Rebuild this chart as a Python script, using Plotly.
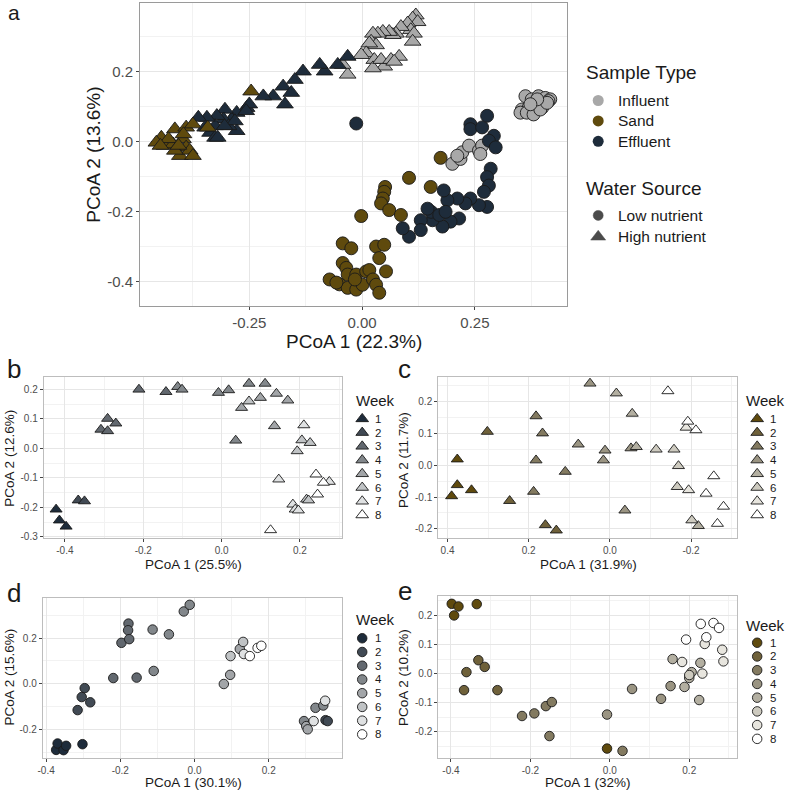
import plotly.graph_objects as go

# ---------------- DATA ----------------
# Panel a: PCoA of all samples
infl_high_x = [0.119, 0.112, 0.123, 0.101, 0.108, 0.115, 0.112, 0.086, 0.075, 0.068, 0.060, 0.046, 0.035, 0.024,
               0.020, 0.031, 0.016, 0.009, -0.002, 0.027, 0.049, 0.024, 0.042, 0.064, 0.082, 0.071, -0.032, -0.043]
infl_high_y = [0.361, 0.352, 0.342, 0.338, 0.319, 0.309, 0.286, 0.328, 0.309, 0.305, 0.314, 0.314, 0.309, 0.309,
               0.286, 0.276, 0.281, 0.253, 0.248, 0.234, 0.215, 0.210, 0.234, 0.234, 0.243, 0.229, 0.192, 0.220]
eff_high_x = [-0.032, -0.054, -0.083, -0.094, -0.131, -0.149, -0.175, -0.157, -0.171, -0.197, -0.219, -0.256,
              -0.278, -0.289, -0.278, -0.304, -0.307, -0.322, -0.326, -0.337, -0.326, -0.344, -0.363, -0.348,
              -0.296, -0.282, -0.250, -0.257, -0.320, -0.305]
eff_high_y = [0.243, 0.220, 0.201, 0.220, 0.201, 0.177, 0.158, 0.140, 0.107, 0.130, 0.130, 0.097,
              0.083, 0.064, 0.031, 0.092, 0.064, 0.074, 0.045, 0.026, 0.012, 0.069, 0.069, 0.041,
              0.045, 0.059, 0.107, 0.088, 0.012, 0.045]
sand_high_x = [-0.246, -0.415, -0.390, -0.375, -0.445, -0.456, -0.438, -0.419, -0.397, -0.390, -0.404, -0.382,
               -0.375, -0.415, -0.342, -0.429, -0.407, -0.396, -0.447]
sand_high_y = [0.144, 0.036, 0.041, 0.050, 0.012, -0.002, -0.011, -0.007, 0.008, -0.016, -0.040, -0.025,
               -0.040, -0.025, 0.041, 0.008, -0.011, 0.022, -0.011]
infl_low_x = [0.362, 0.376, 0.391, 0.406, 0.417, 0.354, 0.369, 0.384, 0.399, 0.413, 0.351, 0.365, 0.380, 0.395,
              0.410, 0.388, 0.373, 0.200, 0.218, 0.222, 0.237, 0.259, 0.266, 0.262, 0.211]
infl_low_y = [0.130, 0.121, 0.130, 0.125, 0.121, 0.092, 0.097, 0.102, 0.097, 0.116, 0.083, 0.083, 0.078, 0.092,
              0.111, 0.121, 0.107, -0.063, -0.049, -0.030, -0.011, -0.025, -0.011, -0.035, -0.040]
eff_low_x = [-0.013, 0.240, 0.240, 0.266, 0.277, 0.292, 0.281, 0.296, 0.285, 0.277, 0.281, 0.270, 0.277, 0.259,
             0.240, 0.229, 0.211, 0.189, 0.181, 0.215, 0.196, 0.178, 0.156, 0.153, 0.145, 0.171, 0.130, 0.130,
             0.104, 0.090, 0.185]
eff_low_y = [0.052, 0.050, 0.036, 0.041, 0.074, 0.017, 0.003, -0.016, -0.077, -0.101, -0.125, -0.143, -0.186,
             -0.181, -0.162, -0.176, -0.162, -0.167, -0.139, -0.219, -0.228, -0.242, -0.224, -0.200, -0.191,
             -0.209, -0.224, -0.252, -0.271, -0.247, -0.200]
sand_low_x = [0.174, 0.104, 0.152, 0.051, 0.049, 0.046, 0.042, 0.060, 0.086, -0.002, -0.043, -0.024, 0.031,
              0.049, 0.038, 0.053, -0.043, -0.035, -0.032, -0.013, 0.009, 0.016, -0.072, -0.050, -0.032, -0.013,
              0.001, 0.024, 0.031, 0.038, -0.016, -0.057]
sand_low_y = [-0.046, -0.103, -0.129, -0.129, -0.143, -0.162, -0.176, -0.195, -0.209, -0.212, -0.290, -0.304,
              -0.299, -0.294, -0.332, -0.370, -0.346, -0.360, -0.379, -0.379, -0.370, -0.366, -0.393, -0.407,
              -0.417, -0.422, -0.408, -0.393, -0.408, -0.431, -0.393, -0.402]

# Panel b: high-nutrient effluent by week
b_x = [-0.4225, -0.414, -0.397, -0.366, -0.350,
       -0.291, -0.308, -0.291, -0.270, -0.211, -0.142,
       -0.112, -0.101, -0.008, 0.018, 0.036, 0.070, 0.111,
       0.099, 0.140, 0.169, 0.135, 0.051,
       0.070, 0.205, 0.226, 0.193, 0.217, 0.222,
       0.210, 0.146, 0.275, 0.182, 0.188, 0.196,
       0.241, 0.260, 0.245, 0.125]
b_y = [-0.207, -0.244, -0.265, -0.176, -0.179,
       0.101, 0.064, 0.059, 0.085, 0.200, 0.192,
       0.209, 0.200, 0.189, 0.198, 0.027, 0.220, 0.220,
       0.172, 0.186, 0.163, 0.076, 0.138,
       0.160, 0.028, 0.019, -0.009, -0.173, -0.176,
       0.079, -0.105, -0.113, -0.190, -0.207, -0.210,
       -0.088, -0.116, -0.156, -0.277]
b_week = [1, 1, 1, 2, 2,
          3, 3, 3, 3, 3, 3,
          4, 4, 4, 4, 4, 4, 4,
          5, 5, 5, 5, 5,
          6, 6, 6, 6, 6, 6,
          7, 7, 7, 7, 7, 7,
          8, 8, 8, 8]

# Panel c: high-nutrient sand by week
c_x = [0.376, 0.376, 0.390, 0.341,
       0.302, 0.247, 0.159, 0.132,
       0.182, 0.166, 0.182, 0.188, 0.110,
       0.078, 0.049, 0.012, 0.016, -0.037, -0.052,
       -0.016, -0.055, -0.065, -0.218,
       -0.114, -0.158, -0.169, -0.166, -0.202,
       -0.194, -0.188,
       -0.143, -0.192, -0.212, -0.256, -0.237, -0.280, -0.265]
c_y = [0.019, -0.062, -0.097, -0.078,
       0.106, -0.112, -0.188, -0.205,
       0.155, 0.101, 0.016, -0.083, -0.020,
       0.066, 0.258, 0.047, 0.016, -0.142, 0.054,
       0.227, 0.163, 0.058, -0.191,
       0.050, 0.050, -0.002, -0.068, -0.173,
       -0.078, 0.119,
       0.234, 0.138, 0.111, -0.034, -0.089, -0.130, -0.184]
c_week = [1, 1, 1, 1,
          2, 2, 2, 2,
          3, 3, 3, 3, 3,
          4, 4, 4, 4, 4, 4,
          5, 5, 5, 5,
          6, 6, 6, 6, 6,
          7, 7,
          8, 8, 8, 8, 8, 8, 8]

# Panel d: low-nutrient effluent by week
d_x = [-0.373, -0.369, -0.353, -0.346, -0.302,
       -0.296, -0.304, -0.281, -0.315, 0.353, 0.359,
       -0.219, -0.156, -0.197, -0.178, -0.179, -0.176,
       -0.113, -0.069, -0.110, -0.029, -0.013, 0.326, 0.347, 0.295,
       0.079, 0.096, 0.122, 0.301, 0.305,
       0.097, 0.131,
       0.133, 0.352, 0.321,
       0.149, 0.170, 0.180]
d_y = [-0.289, -0.261, -0.290, -0.271, -0.264,
       -0.019, -0.058, -0.081, -0.115, -0.159, -0.163,
       0.025, 0.027, 0.179, 0.263, 0.234, 0.195,
       0.237, 0.216, 0.056, 0.316, 0.345, -0.105, -0.095, -0.163,
       -0.001, 0.039, 0.152, -0.185, -0.199,
       0.121, 0.183,
       0.130, -0.074, -0.163,
       0.121, 0.157, 0.166]
d_week = [1, 1, 1, 1, 1,
          2, 2, 2, 2, 2, 2,
          3, 3, 3, 3, 3, 3,
          4, 4, 4, 4, 4, 4, 4, 4,
          5, 5, 5, 5, 5,
          6, 6,
          7, 7, 7,
          8, 8, 8]

# Panel e: low-nutrient sand by week
e_x = [-0.398, -0.381, -0.392, -0.335, -0.007,
       -0.331, -0.315, -0.361, -0.367, -0.283,
       -0.221, -0.190, -0.161, -0.146, -0.152, 0.032,
       -0.007, 0.056, 0.129, 0.153,
       0.158, 0.188, 0.225, 0.228, 0.200, 0.206,
       0.200,
       0.182, 0.233, 0.239, 0.283, 0.286,
       0.192, 0.229, 0.243, 0.261, 0.275]
e_y = [0.240, 0.231, 0.200, 0.239, -0.258,
       0.046, 0.023, 0.005, -0.057, -0.057,
       -0.146, -0.137, -0.112, -0.098, -0.215, -0.266,
       -0.141, -0.053, -0.087, -0.043,
       0.050, -0.046, -0.091, 0.037, -0.015, 0.005,
       -0.005,
       0.040, 0.000, 0.102, 0.082, 0.042,
       0.117, 0.171, 0.125, 0.174, 0.157]
e_week = [1, 1, 1, 1, 1,
          2, 2, 2, 2, 2,
          3, 3, 3, 3, 3, 3,
          4, 4, 4, 4,
          5, 5, 5, 5, 5, 5,
          6,
          7, 7, 7, 7, 7,
          8, 8, 8, 8, 8]

weeks = [1, 2, 3, 4, 5, 6, 7, 8]
sample_types = ["Influent", "Sand", "Effluent"]
water_sources = ["Low nutrient", "High nutrient"]

a_xticks = [-0.25, 0.0, 0.25]
a_xticklabels = ["-0.25", "0.00", "0.25"]
a_yticks = [-0.4, -0.2, 0.0, 0.2]
a_yticklabels = ["-0.4", "-0.2", "0.0", "0.2"]
b_xticks = [-0.4, -0.2, 0.0, 0.2]
b_xticklabels = ["-0.4", "-0.2", "0.0", "0.2"]
b_yticks = [-0.3, -0.2, -0.1, 0.0, 0.1, 0.2]
b_yticklabels = ["-0.3", "-0.2", "-0.1", "0.0", "0.1", "0.2"]
c_xticks = [0.4, 0.2, 0.0, -0.2]
c_xticklabels = ["0.4", "0.2", "0.0", "-0.2"]
c_yticks = [-0.2, -0.1, 0.0, 0.1, 0.2]
c_yticklabels = ["-0.2", "-0.1", "0.0", "0.1", "0.2"]
d_xticks = [-0.4, -0.2, 0.0, 0.2, 0.4]
d_xticklabels = ["-0.4", "-0.2", "0.0", "0.2", "0.4"]
d_yticks = [-0.2, 0.0, 0.2]
d_yticklabels = ["-0.2", "0.0", "0.2"]
e_xticks = [-0.4, -0.2, 0.0, 0.2]
e_xticklabels = ["-0.4", "-0.2", "0.0", "0.2"]
e_yticks = [-0.2, -0.1, 0.0, 0.1, 0.2]
e_yticklabels = ["-0.2", "-0.1", "0.0", "0.1", "0.2"]

# ---------------- STYLE ----------------
W, H = 786, 793
FONT = "Liberation Sans, Arial, sans-serif"
C_INFL = "#a8a8a8"
C_SAND = "#5f4a0d"
C_EFF = "#1e2c3b"
OUTLINE = "#1a1a1a"


def px(x):
    return x / W


def py(y):
    return 1 - y / H


def hex2rgb(h):
    h = h.lstrip("#")
    return [int(h[i:i + 2], 16) for i in (0, 2, 4)]


def week_color(base, wk):
    r, g, b = hex2rgb(base)
    t = (wk - 1) / 7.0
    mix = [c + (255 - c) * t for c in (r, g, b)]
    grey = sum(mix) / 3.0
    s = 0.5 * 4 * t * (1 - t)
    mix = [int(round(c * (1 - s) + grey * s)) for c in mix]
    return "rgb(%d,%d,%d)" % tuple(mix)


fig = go.Figure()

# ---------------- PANEL A ----------------
groups_a = [
    (infl_low_x, infl_low_y, C_INFL, "circle", 13),
    (eff_low_x, eff_low_y, C_EFF, "circle", 13),
    (sand_low_x, sand_low_y, C_SAND, "circle", 13),
    (infl_high_x, infl_high_y, C_INFL, "triangle-up", 14.5),
    (eff_high_x, eff_high_y, C_EFF, "triangle-up", 14.5),
    (sand_high_x, sand_high_y, C_SAND, "triangle-up", 14.5),
]
for gx, gy, col, sym, sz in groups_a:
    fig.add_trace(go.Scatter(x=gx, y=gy, mode="markers", xaxis="x", yaxis="y", showlegend=False,
                             marker=dict(color=col, symbol=sym, size=sz,
                                         line=dict(color=OUTLINE, width=0.9))))


def add_week_panel(xs, ys, wks, base, sym, size, xa, ya):
    for wk in weeks:
        gx = [x for x, w in zip(xs, wks) if w == wk]
        gy = [y for y, w in zip(ys, wks) if w == wk]
        fig.add_trace(go.Scatter(x=gx, y=gy, mode="markers", xaxis=xa, yaxis=ya, showlegend=False,
                                 marker=dict(color=week_color(base, wk), symbol=sym, size=size,
                                             line=dict(color=OUTLINE, width=0.9))))


add_week_panel(b_x, b_y, b_week, C_EFF, "triangle-up", 10.5, "x2", "y2")
add_week_panel(c_x, c_y, c_week, C_SAND, "triangle-up", 10.5, "x3", "y3")
add_week_panel(d_x, d_y, d_week, C_EFF, "circle", 9.5, "x4", "y4")
add_week_panel(e_x, e_y, e_week, C_SAND, "circle", 9.5, "x5", "y5")


def axis(domain, rng, tickvals, ticktext, minor_dtick, border, tfs, anchor):
    return dict(domain=domain, range=rng, tickmode="array", tickvals=tickvals, ticktext=ticktext,
                showline=True, mirror=True, linecolor=border, linewidth=1,
                ticks="outside", ticklen=3, tickwidth=1, tickcolor="#444",
                tickfont=dict(family=FONT, size=tfs, color="#4d4d4d"),
                showgrid=True, gridcolor="#e6e6e6", gridwidth=1, zeroline=False,
                minor=dict(tickmode="linear", tick0=0, dtick=minor_dtick, showgrid=True,
                           gridcolor="#f2f2f2", gridwidth=1, ticks=""),
                anchor=anchor, fixedrange=True)


lay = dict(
    width=W, height=H, margin=dict(l=0, r=0, t=0, b=0),
    paper_bgcolor="white", plot_bgcolor="rgba(0,0,0,0)", showlegend=False,
    font=dict(family=FONT, color="#1a1a1a"),
)
lay["xaxis"] = axis([px(136), px(566)], [-0.492, 0.455], a_xticks, a_xticklabels, 0.125, "#9a9a9a", 15, "y")
lay["yaxis"] = axis([py(308), py(3)], [-0.47, 0.396], a_yticks, a_yticklabels, 0.1, "#9a9a9a", 15, "x")
lay["xaxis2"] = axis([px(39), px(339)], [-0.454, 0.307], b_xticks, b_xticklabels, 0.1, "#bdbdbd", 10, "y2")
lay["yaxis2"] = axis([py(541), py(379)], [-0.305, 0.242], b_yticks, b_yticklabels, 0.05, "#bdbdbd", 10, "x2")
lay["xaxis3"] = axis([px(436), px(737)], [0.423, -0.314], c_xticks, c_xticklabels, 0.1, "#bdbdbd", 10, "y3")
lay["yaxis3"] = axis([py(541), py(379)], [-0.230, 0.278], c_yticks, c_yticklabels, 0.05, "#bdbdbd", 10, "x3")
lay["xaxis4"] = axis([px(38), px(339)], [-0.409, 0.397], d_xticks, d_xticklabels, 0.1, "#bdbdbd", 10, "y4")
lay["yaxis4"] = axis([py(762), py(601)], [-0.325, 0.375], d_yticks, d_yticklabels, 0.1, "#bdbdbd", 10, "x4")
lay["xaxis5"] = axis([px(436), px(737)], [-0.432, 0.321], e_xticks, e_xticklabels, 0.1, "#bdbdbd", 10, "y5")
lay["yaxis5"] = axis([py(762), py(599)], [-0.291, 0.267], e_yticks, e_yticklabels, 0.05, "#bdbdbd", 10, "x5")
lay["xaxis6"] = dict(domain=[0, 1], range=[0, W], visible=False, fixedrange=True, anchor="y6")
lay["yaxis6"] = dict(domain=[0, 1], range=[H, 0], visible=False, fixedrange=True, anchor="x6")
fig.update_layout(**lay)

ann = []


def text(x, y, s, size, xanchor="left", angle=0, color="#1a1a1a"):
    ann.append(dict(x=px(x), y=py(y), xref="paper", yref="paper", text=s, showarrow=False,
                    xanchor=xanchor, yanchor="middle", textangle=angle, borderpad=0, borderwidth=0,
                    font=dict(family=FONT, size=size, color=color)))


text(3, 13, "a", 21)
text(2, 371, "b", 26)
text(396, 371, "c", 26)
text(2, 596, "d", 26)
text(396, 594, "e", 26)

text(351, 343, "PCoA 1 (22.3%)", 19, "center")
text(89, 155, "PCoA 2 (13.6%)", 19, "center", -90)
text(190, 567, "PCoA 1 (25.5%)", 13.5, "center")
text(5, 460, "PCoA 2 (12.6%)", 13.5, "center", -90)
text(587, 567, "PCoA 1 (31.9%)", 13.5, "center")
text(401, 462, "PCoA 2 (11.7%)", 13.5, "center", -90)
text(190, 786.5, "PCoA 1 (30.1%)", 13.5, "center")
text(5, 680, "PCoA 2 (15.6%)", 13.5, "center", -90)
text(587, 786.5, "PCoA 1 (32%)", 13.5, "center")
text(401, 681, "PCoA 2 (10.2%)", 13.5, "center", -90)

text(585, 73, "Sample Type", 19)
st_cols = [C_INFL, C_SAND, C_EFF]
st_y = [101, 121.5, 142]
fig.add_trace(go.Scatter(x=[597] * 3, y=st_y, mode="markers", xaxis="x6", yaxis="y6", showlegend=False,
                         hoverinfo="skip", marker=dict(color=st_cols, symbol="circle", size=11,
                                                       line=dict(width=0))))
for name, yy in zip(sample_types, st_y):
    text(617, yy, name, 15.5)
text(585, 189, "Water Source", 19)
ws_y = [216.5, 238]
fig.add_trace(go.Scatter(x=[597] * 2, y=ws_y, mode="markers", xaxis="x6", yaxis="y6", showlegend=False,
                         hoverinfo="skip", marker=dict(color="black", symbol=["circle", "triangle-up"],
                                                       size=[10, 13], line=dict(color="black", width=0.5))))
for name, yy in zip(water_sources, ws_y):
    text(617, yy, name, 15.5)


def week_legend(tx, ty, mx, nx, y0, base, sym, size):
    ys = [y0 + i * 13.8 for i in range(len(weeks))]
    text(tx, ty, "Week", 15)
    fig.add_trace(go.Scatter(x=[mx] * len(weeks), y=ys, mode="markers", xaxis="x6", yaxis="y6",
                             showlegend=False, hoverinfo="skip",
                             marker=dict(color=[week_color(base, w) for w in weeks], symbol=sym, size=size,
                                         line=dict(color=OUTLINE, width=0.9))))
    for w, yy in zip(weeks, ys):
        text(nx, yy, str(w), 11.5)


week_legend(353, 403, 359.5, 372, 421, C_EFF, "triangle-up", 11)
week_legend(746, 403, 757, 770, 421, C_SAND, "triangle-up", 11)
week_legend(353, 623, 359.5, 372, 641.5, C_EFF, "circle", 9.5)
week_legend(746, 629, 757, 770, 646, C_SAND, "circle", 9.5)

fig.update_layout(annotations=ann)
fig.write_html("out.html", config={"displayModeBar": False},
               post_script="document.body.style.margin='0';document.body.style.padding='0';")
